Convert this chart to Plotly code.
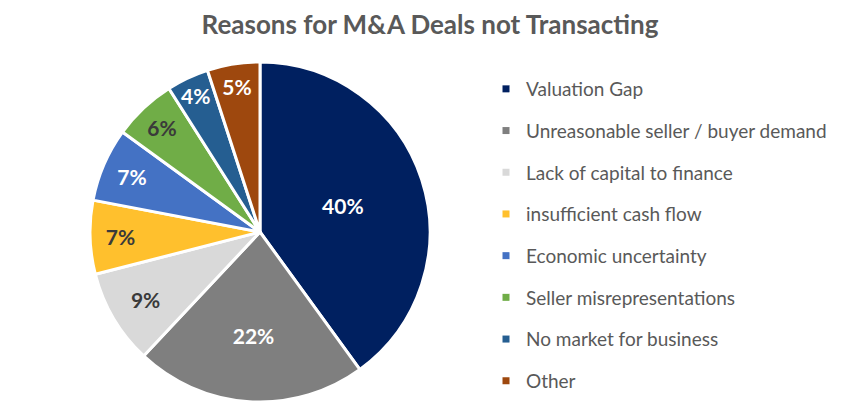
import plotly.graph_objects as go

labels = ["Valuation Gap", "Unreasonable seller / buyer demand", "Lack of capital to finance",
          "insufficient cash flow", "Economic uncertainty", "Seller misrepresentations",
          "No market for business", "Other"]
values = [40, 22, 9, 7, 7, 6, 4, 5]
colors = ["#002060", "#7F7F7F", "#D9D9D9", "#FFC02D", "#4472C4", "#70AD47", "#255E91", "#9E480E"]
text_colors = ["#FFFFFF", "#FFFFFF", "#3A3A3A", "#3A3A3A", "#FFFFFF", "#3A3A3A", "#FFFFFF", "#FFFFFF"]

W, H = 862, 416
cx, cy, r = 260, 232, 170

fig = go.Figure()
fig.add_trace(go.Pie(
    labels=labels, values=values, sort=False, direction="clockwise", rotation=0,
    marker=dict(colors=colors, line=dict(color="white", width=3)),
    texttemplate="%{value}%", textposition="inside", insidetextorientation="horizontal",
    textfont=dict(family="Lato", size=21, color=text_colors, weight="bold"),
    showlegend=False, hoverinfo="label+percent",
    domain=dict(x=[(cx - r) / W, (cx + r) / W], y=[(H - cy - r) / H, (H - cy + r) / H]),
))

for i, (lab, col) in enumerate(zip(labels, colors)):
    fig.add_trace(go.Scatter(
        x=[None], y=[None], mode="markers", name=lab, legendgroup=str(i),
        marker=dict(symbol="square", size=7, color=col), showlegend=True,
    ))

fig.update_layout(
    width=W, height=H, margin=dict(l=0, r=0, t=0, b=0, autoexpand=False),
    paper_bgcolor="white", plot_bgcolor="white",
    title=dict(text="<b>Reasons for M&A Deals not Transacting</b>", x=430 / W, xanchor="center",
               y=1 - 25 / H, yanchor="middle",
               font=dict(family="Lato", size=26, color="#595959")),
    xaxis=dict(visible=False), yaxis=dict(visible=False),
    legend=dict(x=486 / W, xanchor="left", y=1 - 70 / H, yanchor="top",
                font=dict(family="Lato", size=19, color="#595959"),
                tracegroupgap=14, itemclick=False),
    uniformtext=dict(minsize=21, mode="show"),
)

fig.write_html("out.html")
